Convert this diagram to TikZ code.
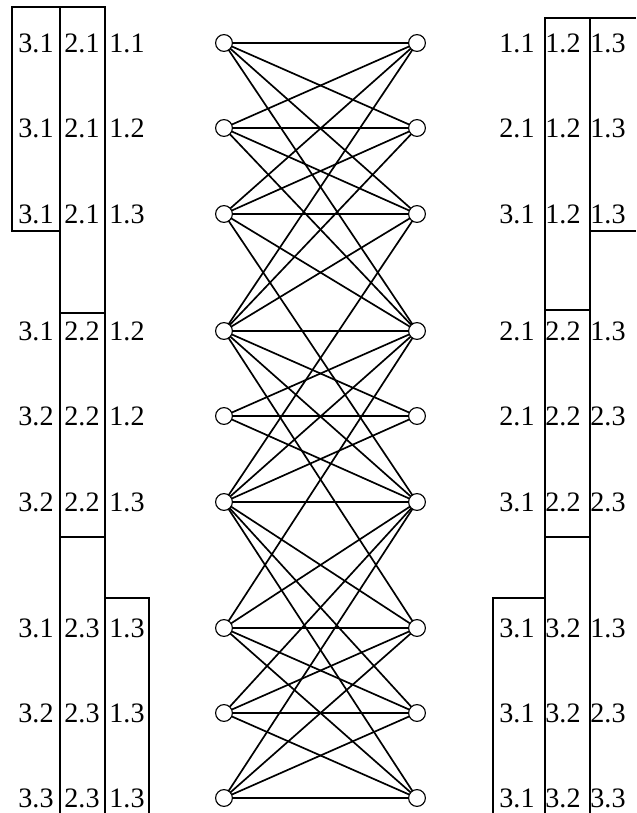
\documentclass[tikz,border=0pt]{standalone}
\usepackage{fontspec}
\setmainfont{Liberation Serif}
\usetikzlibrary{positioning}

\begin{document}
\begin{tikzpicture}[x=0.025cm, y=-0.025cm,
    vNode/.style={circle, draw, minimum size=0.42cm, inner sep=0pt, line width=0.8pt, fill=white},
    lbl/.style={inner sep=0pt, font=\fontsize{20}{20}\selectfont},
    edge/.style={draw, line width=1.2pt},
    frame/.style={draw, line width=0.9pt}
]
    \useasboundingbox (0,0) rectangle (636,813);

    % left and right columns of nodes
    \foreach \i/\y in {1/43,2/128,3/214,4/331,5/416,6/502,7/628,8/713,9/798} {
        \coordinate (L\i) at (224,\y);
        \coordinate (R\i) at (417,\y);
    }

    % edges: full blocks, then the links between blocks
    \foreach \a/\b in {1/1,1/2,1/3,2/1,2/2,2/3,3/1,3/2,3/3,
                       4/4,4/5,4/6,5/4,5/5,5/6,6/4,6/5,6/6,
                       7/7,7/8,7/9,8/7,8/8,8/9,9/7,9/8,9/9,
                       4/1,4/2,4/3,1/4,2/4,3/4,
                       6/7,6/8,6/9,7/6,8/6,9/6,
                       4/7,7/4,6/3,3/6}
        \path[edge] (L\a) -- (R\b);

    \foreach \i in {1,...,9} {
        \node[vNode] (l\i) at (L\i) {};
        \node[vNode] (r\i) at (R\i) {};
    }

    % left labels
    \foreach \i/\y/\p/\q/\r in {1/43/3.1/2.1/1.1, 2/128/3.1/2.1/1.2, 3/214/3.1/2.1/1.3,
                                4/331/3.1/2.2/1.2, 5/416/3.2/2.2/1.2, 6/502/3.2/2.2/1.3,
                                7/628/3.1/2.3/1.3, 8/713/3.2/2.3/1.3, 9/798/3.3/2.3/1.3} {
        \node[lbl] (la\i) at (36,\y) {\p};
        \node[lbl] (lb\i) at (82,\y) {\q};
        \node[lbl] (lc\i) at (127,\y) {\r};
    }

    % right labels
    \foreach \i/\y/\p/\q/\r in {1/43/1.1/1.2/1.3, 2/128/2.1/1.2/1.3, 3/214/3.1/1.2/1.3,
                                4/331/2.1/2.2/1.3, 5/416/2.1/2.2/2.3, 6/502/3.1/2.2/2.3,
                                7/628/3.1/3.2/1.3, 8/713/3.1/3.2/2.3, 9/798/3.1/3.2/3.3} {
        \node[lbl] (ra\i) at (517,\y) {\p};
        \node[lbl] (rb\i) at (563,\y) {\q};
        \node[lbl] (rc\i) at (608,\y) {\r};
    }

    % frames on the left
    \draw[frame] (12,7) rectangle (60,231);
    \draw[frame] (60,813) -- (60,7) -- (105,7) -- (105,813);
    \draw[frame] (60,313) -- (105,313) (60,537) -- (105,537);
    \draw[frame] (105,598) -- (149,598) -- (149,813);

    % frames on the right
    \draw[frame] (545,813) -- (545,18) -- (636,18);
    \draw[frame] (590,18) -- (590,813);
    \draw[frame] (590,231) -- (636,231);
    \draw[frame] (545,310) -- (590,310) (545,537) -- (590,537);
    \draw[frame] (493,813) -- (493,598) -- (545,598);
\end{tikzpicture}
\end{document}
